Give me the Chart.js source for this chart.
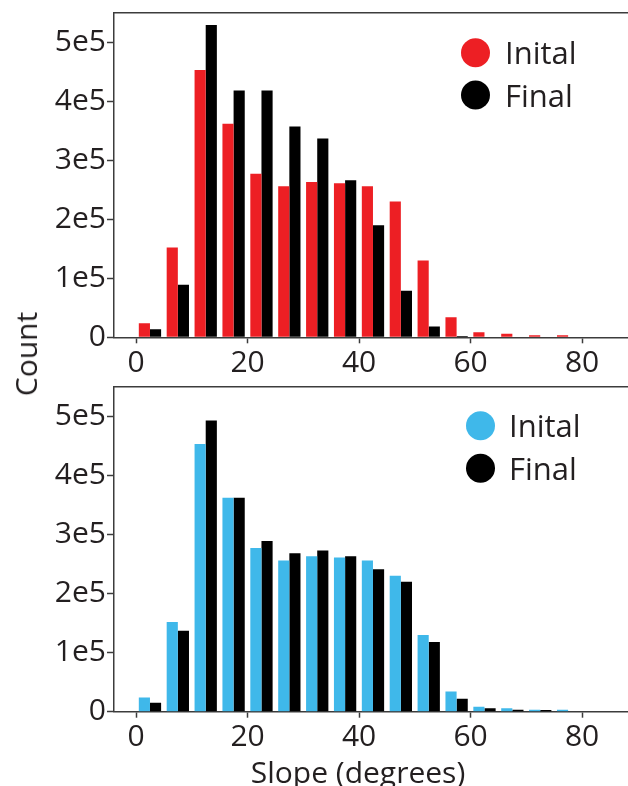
<!DOCTYPE html>
<html lang="en">
<head>
<meta charset="UTF-8" />
<title>Slope histograms</title>
<script src="https://cdn.jsdelivr.net/npm/chart.js@4"></script>
<style>
  html, body { margin: 0; padding: 0; background: #fff; overflow: hidden; width: 628px; height: 786px; }
  body { position: relative; font-family: "Open Sans", sans-serif; color: #231f20; }
  canvas { position: absolute; left: 0; }
  #top { top: 0; }
  #bottom { top: 375px; }
  .label { position: absolute; font-size: 30px; line-height: 1; white-space: nowrap; }
  #ylabel { left: 26px; top: 354px; transform: translate(-50%, -50%) rotate(-90deg); }
  #xlabel { left: 358px; top: 772px; transform: translate(-50%, -50%); }
</style>
</head>
<body>
<canvas id="top" width="640" height="375"></canvas>
<canvas id="bottom" width="640" height="420"></canvas>
<div class="label" id="ylabel">Count</div>
<div class="label" id="xlabel">Slope (degrees)</div>

<script>
  // 5 degree bins, 0..80
  const binCenters = [2.5, 7.5, 12.5, 17.5, 22.5, 27.5, 32.5, 37.5, 42.5, 47.5, 52.5, 57.5, 62.5, 67.5, 72.5, 77.5];
  const initialCounts = [24000, 152000, 453000, 362000, 277000, 256000, 263000, 261000, 256000, 230000, 130000, 34000, 8500, 6000, 3500, 3500];
  const finalTopCounts = [13600, 89000, 529000, 418000, 418000, 357000, 337000, 266000, 190000, 79000, 18500, 2000, 0, 0, 0, 0];
  const finalBottomCounts = [15000, 137000, 493000, 362000, 289000, 268000, 273000, 263000, 241000, 220000, 118000, 22000, 6000, 3500, 3000, 0];

  const seriesLabels = ["Inital", "Final"];
  const xTickValues = [0, 20, 40, 60, 80];
  const yTickLabels = ["0", "1e5", "2e5", "3e5", "4e5", "5e5"];

  const axisColor = "#3c3c3c";
  const textColor = "#231f20";
  const tickFont = { family: "'Open Sans'", size: 30 };

  // legend drawn inside the plot area, top right
  const insetLegend = {
    id: "insetLegend",
    afterDraw(chart, args, o) {
      const { ctx, chartArea } = chart;
      ctx.save();
      chart.data.datasets.forEach((ds, i) => {
        const cx = chartArea.left + o.x;
        const cy = chartArea.top + o.y + i * o.gap;
        ctx.fillStyle = ds.backgroundColor;
        ctx.beginPath();
        ctx.arc(cx, cy, o.r, 0, 2 * Math.PI);
        ctx.fill();
        ctx.fillStyle = textColor;
        ctx.font = "31px 'Open Sans'";
        ctx.textBaseline = "alphabetic";
        ctx.fillText(ds.label, cx + o.textGap, cy + 11.6);
      });
      ctx.restore();
    },
  };

  // top and right edges of the frame
  const frame = {
    id: "frame",
    afterDraw(chart) {
      const { ctx, chartArea: a } = chart;
      ctx.save();
      ctx.strokeStyle = axisColor;
      ctx.lineWidth = 1.5;
      ctx.beginPath();
      ctx.moveTo(a.left, a.top);
      ctx.lineTo(a.right, a.top);
      ctx.lineTo(a.right, a.bottom);
      ctx.stroke();
      ctx.restore();
    },
  };

  function makeChart(id, initialColor, finalCounts, opts) {
    const xy = (vals) => binCenters.map((x, i) => ({ x: x, y: vals[i] }));
    return new Chart(document.getElementById(id), {
      type: "bar",
      data: {
        datasets: [
          { label: seriesLabels[0], data: xy(initialCounts), backgroundColor: initialColor,
            categoryPercentage: 0.8, barPercentage: 1.0, borderWidth: 0 },
          { label: seriesLabels[1], data: xy(finalCounts), backgroundColor: "#000000",
            categoryPercentage: 0.8, barPercentage: 1.0, borderWidth: 0 },
        ],
      },
      options: {
        responsive: false,
        animation: false,
        layout: { padding: { top: opts.top, right: 10, left: 0, bottom: 0 } },
        plugins: {
          legend: { display: false },
          tooltip: { enabled: false },
          insetLegend: opts.legend,
        },
        scales: {
          x: {
            type: "linear",
            min: -3.95,
            max: 88.6,
            offset: false,
            afterBuildTicks: (s) => { s.ticks = xTickValues.map((v) => ({ value: v })); },
            afterFit: (s) => { s.height = opts.xHeight; s.paddingLeft = 0; s.paddingRight = 0; },
            grid: { offset: false, drawOnChartArea: false, drawTicks: true, tickLength: 6, tickWidth: 1.5, tickColor: axisColor },
            border: { display: true, color: axisColor, width: 1.5 },
            ticks: { font: tickFont, color: textColor, padding: 2, maxRotation: 0, autoSkip: false },
          },
          y: {
            min: 0,
            max: 550000,
            afterBuildTicks: (s) => { s.ticks = yTickLabels.map((t, i) => ({ value: i * 100000 })); },
            afterFit: (s) => { s.width = 114; s.paddingTop = 0; s.paddingBottom = 0; },
            grid: { drawOnChartArea: false, drawTicks: true, tickLength: 7, tickWidth: 1.5, tickColor: axisColor },
            border: { display: true, color: axisColor, width: 1.5 },
            ticks: { font: tickFont, color: textColor, padding: 1, autoSkip: false,
                     callback: (v, i) => yTickLabels[i] },
          },
        },
      },
      plugins: [insetLegend, frame],
    });
  }

  makeChart("top", "#ed1f24", finalTopCounts, {
    top: 12.7, xHeight: 37.7,
    legend: { x: 361.5, y: 40, gap: 42.3, r: 14.5, textGap: 29.5 },
  });
  makeChart("bottom", "#3fb8ea", finalBottomCounts, {
    top: 11.7, xHeight: 83.3,
    legend: { x: 366.5, y: 39, gap: 42.6, r: 14.5, textGap: 28.5 },
  });
</script>
</body>
</html>
